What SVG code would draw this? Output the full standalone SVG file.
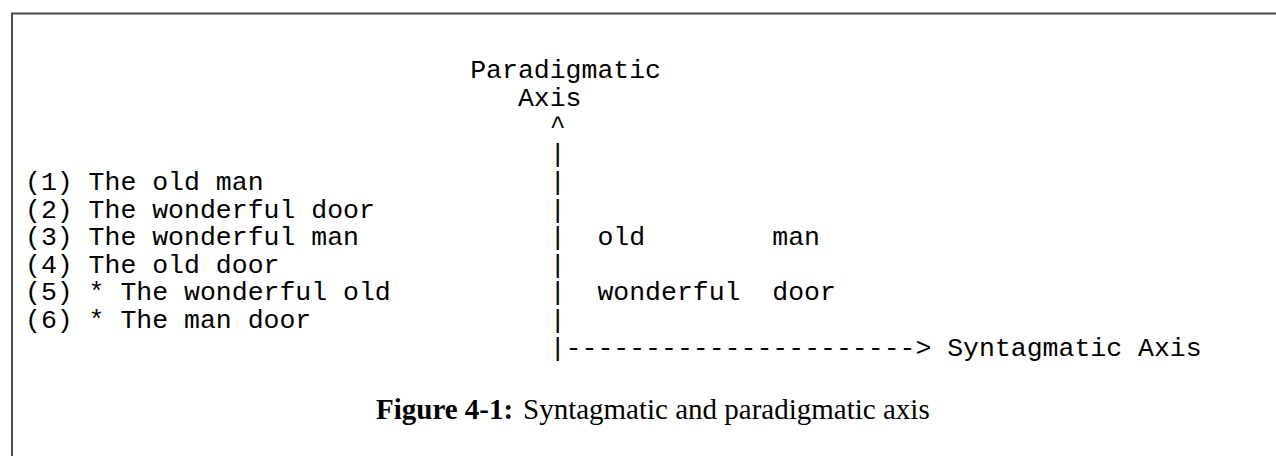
<svg xmlns="http://www.w3.org/2000/svg" width="1276" height="456" viewBox="0 0 1276 456">
<style>
.m{font-family:"Liberation Mono","Courier New",monospace;font-size:26.5px;fill:#000}
.cap{font-family:"Liberation Serif","Times New Roman",serif;font-size:29px;fill:#000}
.b{font-weight:bold}
</style>
<rect width="1276" height="456" fill="#fff"/>
<g id="frame" stroke="#4a4a4a" stroke-width="2" fill="none">
<line x1="11" y1="13.5" x2="1276" y2="13.5"/>
<line x1="12" y1="13" x2="12" y2="456"/>
</g>
<g id="paradigmatic-label">
<text class="m" x="470.2" y="77.8">Paradigmatic</text>
<text class="m" x="517.9" y="105.5">Axis</text>
</g>
<g id="sentences">
<text class="m" x="25" y="190">(1) The old man</text>
<text class="m" x="25" y="217.6">(2) The wonderful door</text>
<text class="m" x="25" y="245.2">(3) The wonderful man</text>
<text class="m" x="25" y="272.8">(4) The old door</text>
<text class="m" x="25" y="300.4">(5) * The wonderful old</text>
<text class="m" x="25" y="328">(6) * The man door</text>
</g>
<g id="grid">
<text class="m" x="597.4" y="245.2">old</text>
<text class="m" x="772.3" y="245.2">man</text>
<text class="m" x="597.4" y="300.4">wonderful</text>
<text class="m" x="772.3" y="300.4">door</text>
</g>
<g id="connectors">
<text class="m" x="549.7" y="133.5">^</text>
<text class="m" x="549.7" y="162.4">|</text>
<text class="m" x="549.7" y="190">|</text>
<text class="m" x="549.7" y="217.6">|</text>
<text class="m" x="549.7" y="245.2">|</text>
<text class="m" x="549.7" y="272.8">|</text>
<text class="m" x="549.7" y="300.4">|</text>
<text class="m" x="549.7" y="328">|</text>
<text class="m" x="549.7" y="355.6">|----------------------&gt;</text>
</g>
<g id="syntagmatic-label">
<text class="m" x="947.2" y="355.6">Syntagmatic Axis</text>
</g>
<g id="caption">
<text class="cap" x="376" y="419"><tspan class="b">Figure 4-1:</tspan><tspan x="523">Syntagmatic and paradigmatic axis</tspan></text>
</g>
</svg>
